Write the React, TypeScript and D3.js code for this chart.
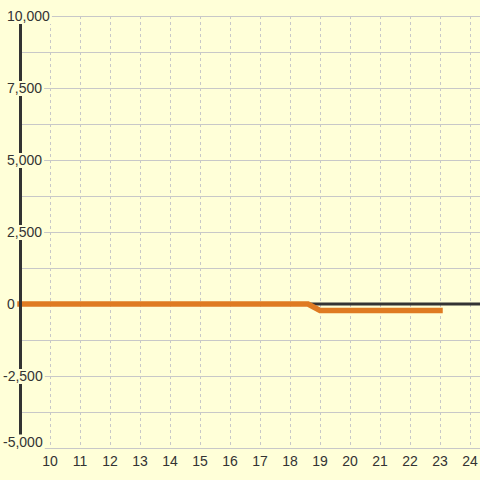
import React from "react";
import * as d3 from "d3";

const days = [9, 18.6, 19, 23];
const values = [0, 0, -225, -225];
const xTicks = [10, 11, 12, 13, 14, 15, 16, 17, 18, 19, 20, 21, 22, 23, 24];
const yGrid = [-5000, -3750, -2500, -1250, 0, 1250, 2500, 3750, 5000, 6250, 7500, 8750, 10000];
const yLabels = [-5000, -2500, 0, 2500, 5000, 7500, 10000];

const W = 480;
const H = 480;
const BG = "#ffffd8";
const FONT = "'Liberation Sans', Arial, sans-serif";

export default function App() {
  const x = d3.scaleLinear().domain([9, 9 + 460 / 30]).range([20, 480]);
  const y = d3.scaleLinear().domain([-5000, 10000]).range([448, 16]);
  const line = d3
    .line<number>()
    .x((_, i) => x(days[i]))
    .y((d) => y(d));
  const fmt = (v: number) => d3.format(",")(v).replace("\u2212", "-");
  const yTop = y(10000);
  const yBot = y(-5000);

  return (
    <svg
      width={W}
      height={H}
      style={{ position: "absolute", left: 0, top: 0, background: BG }}
      fontFamily={FONT}
    >
      <rect x={0} y={0} width={W} height={H} fill={BG} />
      {yGrid.map((v) => (
        <line key={"h" + v} x1={20} x2={W} y1={Math.round(y(v)) + 0.5} y2={Math.round(y(v)) + 0.5} stroke="#c8c8c8" strokeWidth={1} />
      ))}
      {xTicks.map((t) => (
        <line
          key={"v" + t}
          x1={Math.round(x(t)) + 0.5}
          x2={Math.round(x(t)) + 0.5}
          y1={yTop}
          y2={yBot}
          stroke="#c8c8c8"
          strokeWidth={1}
          strokeDasharray="3,3"
        />
      ))}
      <line x1={20} x2={W} y1={y(0)} y2={y(0)} stroke="#333" strokeWidth={3} />
      <path d={line(values) || ""} fill="none" stroke="#df7b22" strokeWidth={5.5} strokeLinecap="square" />
      <line x1={20.5} x2={20.5} y1={yTop} y2={yBot} stroke="#333" strokeWidth={3} />
      {yLabels.map((v) => {
        const label = fmt(v);
        const x0 = v < 0 ? 3 : 7;
        const cy = Math.min(y(v), 441.5);
        const w = label.length * 7.8 - (label.includes(",") ? 3.9 : 0) - (v < 0 ? 3.1 : 0);
        return (
          <g key={"yl" + v}>
            <rect x={0} y={cy - 7} width={x0 + w + 2} height={15} fill={BG} />
            <text x={x0} y={cy + 5} fontSize={14} fill="#333">
              {label}
            </text>
          </g>
        );
      })}
      {xTicks.map((t) => (
        <text key={"xl" + t} x={x(t)} y={466} fontSize={14} fill="#333" textAnchor="middle">
          {t}
        </text>
      ))}
    </svg>
  );
}
